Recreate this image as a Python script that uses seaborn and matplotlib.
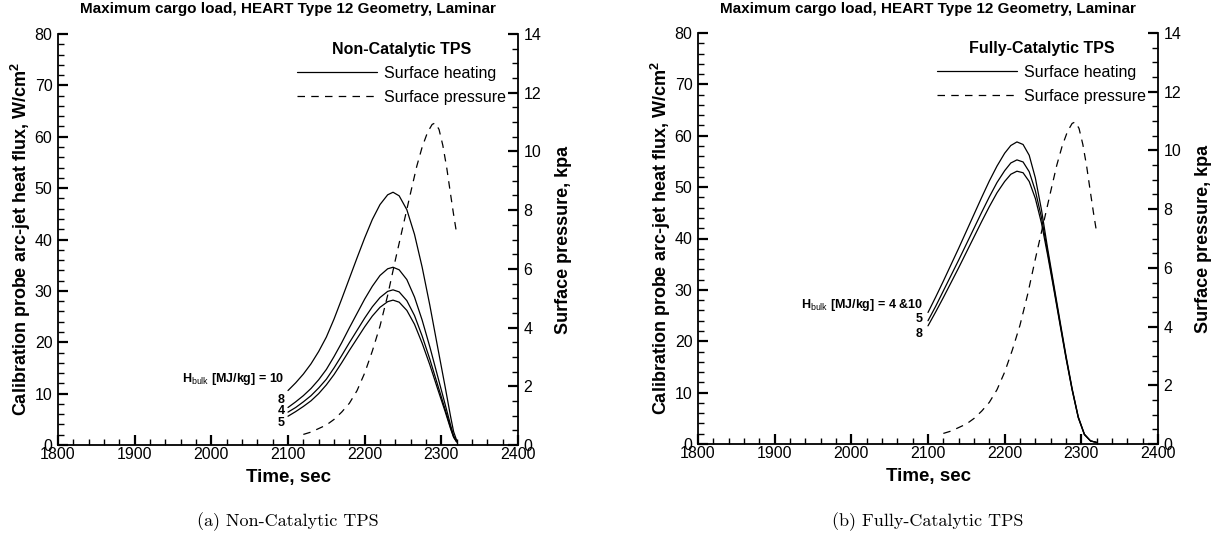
import numpy as np
import pandas as pd
import matplotlib
matplotlib.use("Agg")
import matplotlib.pyplot as plt
import seaborn as sns
from matplotlib.lines import Line2D
from matplotlib.ticker import MultipleLocator

# ---------------- data ----------------
time_nc = [2100, 2110, 2120, 2130, 2140, 2150, 2160, 2170, 2180, 2190, 2200,
           2210, 2220, 2230, 2237, 2245, 2255, 2265, 2275, 2285, 2295, 2305,
           2312, 2316, 2320]
heat_nc_10 = [10.6, 12.1, 13.8, 15.8, 18.2, 21.0, 24.5, 28.4, 32.4, 36.4, 40.3,
              43.9, 46.8, 48.7, 49.2, 48.5, 45.8, 41.0, 34.6, 27.2, 19.2, 11.3,
              5.6, 2.6, 0.9]
heat_nc_8 = [7.3, 8.4, 9.6, 11.0, 12.7, 14.7, 17.2, 19.9, 22.8, 25.6, 28.4,
             30.9, 33.0, 34.3, 34.6, 34.1, 32.2, 28.8, 24.3, 19.1, 13.5, 7.9,
             3.9, 1.8, 0.7]
heat_nc_4 = [6.4, 7.3, 8.4, 9.6, 11.1, 12.8, 15.0, 17.4, 19.9, 22.3, 24.7,
             26.9, 28.7, 29.9, 30.2, 29.8, 28.1, 25.2, 21.2, 16.7, 11.8, 6.9,
             3.4, 1.6, 0.6]
heat_nc_5 = [5.6, 6.5, 7.5, 8.6, 10.0, 11.7, 13.7, 16.0, 18.4, 20.7, 23.0,
             25.1, 26.8, 27.9, 28.2, 27.8, 26.2, 23.5, 19.8, 15.6, 11.0, 6.5,
             3.2, 1.5, 0.6]

time_fc = [2100, 2110, 2120, 2130, 2140, 2150, 2160, 2170, 2180, 2190, 2200,
           2208, 2216, 2224, 2232, 2240, 2248, 2256, 2264, 2272, 2280, 2288,
           2296, 2304, 2312, 2320]
heat_fc_4_10 = [25.6, 28.6, 31.7, 34.9, 38.1, 41.4, 44.7, 48.0, 51.2, 54.1, 56.6,
                58.1, 58.8, 58.3, 56.2, 51.8, 45.6, 38.1, 31.1, 24.1, 17.2, 10.8,
                5.3, 1.9, 0.6, 0.3]
heat_fc_5 = [24.0, 26.8, 29.8, 32.8, 35.8, 38.9, 42.0, 45.1, 48.1, 50.9, 53.2,
             54.7, 55.3, 54.9, 53.0, 49.3, 44.1, 37.4, 30.6, 23.7, 16.9, 10.6,
             5.2, 1.9, 0.6, 0.3]
heat_fc_8 = [23.0, 25.7, 28.5, 31.4, 34.3, 37.3, 40.3, 43.3, 46.2, 48.9, 51.1,
             52.5, 53.1, 52.8, 51.1, 47.8, 43.0, 36.8, 30.2, 23.4, 16.7, 10.5,
             5.1, 1.8, 0.6, 0.3]

time_p = [2120, 2130, 2140, 2150, 2160, 2170, 2180, 2190, 2200, 2210, 2220,
          2230, 2240, 2250, 2260, 2268, 2275, 2282, 2288, 2292, 2297, 2302,
          2307, 2312, 2316, 2320]
pressure = [0.36, 0.44, 0.56, 0.68, 0.87, 1.12, 1.42, 1.85, 2.45, 3.2, 4.05,
            5.1, 6.3, 7.45, 8.6, 9.5, 10.15, 10.65, 10.92, 10.97, 10.75, 10.2,
            9.45, 8.55, 7.85, 7.2]

title_text = "Maximum cargo load, HEART Type 12 Geometry, Laminar"
ylabel_left = r"Calibration probe arc-jet heat flux, W/cm$^\mathbf{2}$"
ylabel_right = "Surface pressure, kpa"
xlabel = "Time, sec"

# ---------------- style ----------------
sns.set_theme(style="white")
plt.rcParams["font.family"] = ["Liberation Sans", "DejaVu Sans"]
plt.rcParams["mathtext.fontset"] = "custom"
plt.rcParams["mathtext.rm"] = "Liberation Sans"
plt.rcParams["mathtext.bf"] = "Liberation Sans:bold"
plt.rcParams["mathtext.it"] = "Liberation Sans:italic"
for k in ["text.color", "axes.labelcolor", "xtick.color", "ytick.color", "axes.edgecolor"]:
    plt.rcParams[k] = "black"

fig = plt.figure(figsize=(12.19, 5.52), dpi=100)
W, H = 1219.0, 552.0

LW = 0.9
DASH = (0, (6, 5))
TICK_FS = 11.5


def panel(x0, y0px, curves, pressure_t, pressure_v, leg_title, annots, caption):
    left = x0 / W
    bottom = 1 - y0px / H
    ax = fig.add_axes([left, bottom, 460 / W, 411 / H])
    for t, v in curves:
        sns.lineplot(x=t, y=v, ax=ax, color="black", lw=LW)
    ax.set_xlim(1800, 2400)
    ax.set_ylim(0, 80)
    axr = ax.twinx()
    sns.lineplot(x=pressure_t, y=pressure_v, ax=axr, color="black", lw=LW,
                 linestyle=DASH)
    axr.set_ylim(0, 14)

    ax.xaxis.set_major_locator(MultipleLocator(100))
    ax.xaxis.set_minor_locator(MultipleLocator(20))
    ax.yaxis.set_major_locator(MultipleLocator(10))
    ax.yaxis.set_minor_locator(MultipleLocator(2))
    axr.yaxis.set_major_locator(MultipleLocator(2))
    axr.yaxis.set_minor_locator(MultipleLocator(0.5))

    for a in (ax, axr):
        for s in a.spines.values():
            s.set_linewidth(1.3)
            s.set_color("black")
        a.spines["top"].set_visible(False)
        a.grid(False)
    axr.spines["left"].set_visible(False)
    axr.spines["bottom"].set_visible(False)
    ax.spines["right"].set_visible(False)

    ax.tick_params(axis="both", which="both", direction="in", left=True, bottom=True,
                   top=False, right=False, labelsize=TICK_FS)
    ax.tick_params(which="major", length=7, width=1.6)
    ax.tick_params(which="minor", length=4, width=1.0)
    ax.tick_params(axis="x", pad=1.5)
    ax.tick_params(axis="y", pad=4)
    axr.tick_params(axis="y", which="both", direction="in", right=True, left=False,
                    labelsize=TICK_FS, pad=4)
    axr.tick_params(which="major", length=7, width=1.6)
    axr.tick_params(which="minor", length=4, width=1.0)

    ax.set_xlabel(xlabel, fontsize=13.5, fontweight="bold")
    ax.xaxis.set_label_coords(0.5, -0.058)
    ax.set_ylabel(ylabel_left, fontsize=13, fontweight="bold")
    ax.yaxis.set_label_coords(-0.055, 0.5)
    axr.set_ylabel(ylabel_right, fontsize=13, fontweight="bold")
    axr.yaxis.set_label_coords(1.080, 0.5)

    handles = [Line2D([], [], color="black", lw=LW),
               Line2D([], [], color="black", lw=LW, linestyle=DASH)]
    axr.legend(handles, ["Surface heating", "Surface pressure"], title=leg_title,
               title_fontproperties={"weight": "bold", "size": 11.5},
               prop={"size": 11.5}, frameon=False, loc="upper right",
               bbox_to_anchor=(0.975, 0.98), borderaxespad=0, borderpad=0,
               handlelength=5.0, handletextpad=0.5, labelspacing=0.55)

    for (tx, ty, s) in annots:
        ax.text(tx, ty, s, ha="right", va="center", fontsize=9, fontweight="bold")

    cx = (x0 + 230) / W
    fig.text(cx, 1 - 9 / H, title_text, ha="center", va="center",
             fontsize=11, fontweight="bold")
    fig.text(cx, 1 - 522 / H, caption, ha="center", va="center",
             fontsize=13, family="cmr10")


panel(58, 445,
      [(time_nc, heat_nc_10), (time_nc, heat_nc_8), (time_nc, heat_nc_4), (time_nc, heat_nc_5)],
      time_p, pressure, "Non-Catalytic TPS",
      [(2096, 12.8, r"$\mathbf{H}_{\mathrm{bulk}}$ [MJ/kg] = 10"),
       (2096, 8.7, "8"), (2096, 6.6, "4"), (2096, 4.2, "5")],
      "(a) Non-Catalytic TPS")

panel(698, 444,
      [(time_fc, heat_fc_4_10), (time_fc, heat_fc_5), (time_fc, heat_fc_8)],
      time_p, pressure, "Fully-Catalytic TPS",
      [(2093, 27.1, r"$\mathbf{H}_{\mathrm{bulk}}$ [MJ/kg] = 4 &10"),
       (2093, 24.4, "5"), (2093, 21.5, "8")],
      "(b) Fully-Catalytic TPS")

fig.savefig("out.png", dpi=100)
